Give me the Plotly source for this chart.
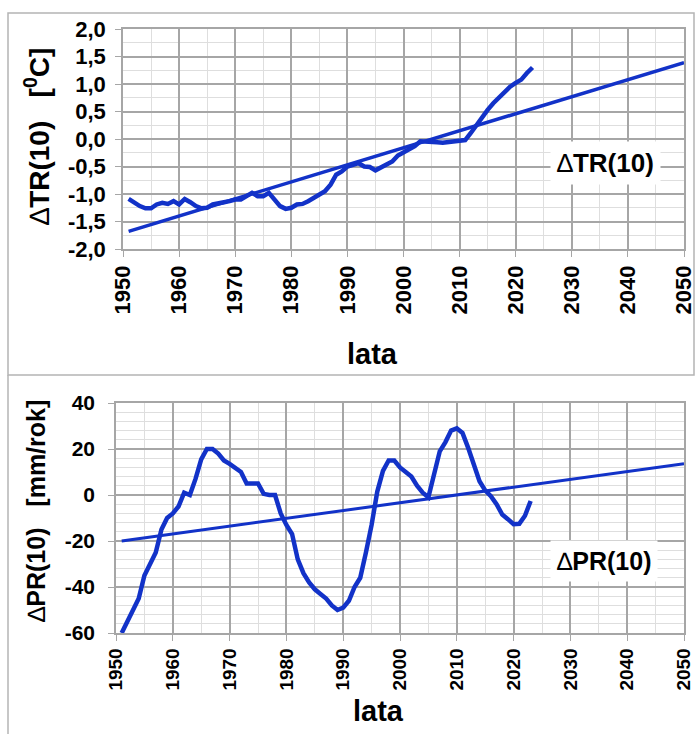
import plotly.graph_objects as go

W, H = 695, 734

# ---- data ----
tr_years = list(range(1951, 2024))
tr_values = [-1.09, -1.16, -1.22, -1.26, -1.26, -1.19, -1.16, -1.18, -1.13, -1.19,
             -1.09, -1.15, -1.22, -1.26, -1.25, -1.19, -1.18, -1.15, -1.13, -1.10,
             -1.10, -1.05, -0.98, -1.04, -1.04, -0.98, -1.10, -1.22, -1.27, -1.25,
             -1.19, -1.18, -1.13, -1.07, -1.01, -0.95, -0.83, -0.65, -0.59, -0.50,
             -0.47, -0.44, -0.50, -0.51, -0.57, -0.51, -0.47, -0.41, -0.30, -0.24,
             -0.19, -0.13, -0.04, -0.04, -0.04, -0.06, -0.07, -0.06, -0.04, -0.03,
             -0.02, 0.11, 0.26, 0.41, 0.53, 0.65, 0.76, 0.87, 0.95, 1.02,
             1.08, 1.20, 1.30]
tr_trend_x = [1951, 2050]
tr_trend_y = [-1.68, 1.39]

pr_years = list(range(1951, 2024))
pr_values = [-60, -55, -50, -45, -35, -30, -25, -15, -10, -8,
             -5, 1, 0, 7, 15.5, 20, 20, 18, 15, 13.5,
             12, 10, 5, 5, 5, 0.5, 0, 0, -8, -13,
             -17, -28, -34, -38, -41, -43, -45, -48, -50, -49,
             -46, -40, -36, -25, -13, 1.5, 10.5, 15, 15, 12,
             10, 8, 4, 1, -1, 10, 19, 23, 28, 29,
             27, 20.5, 13, 6, 2, -0.5, -4, -8.5, -10.5, -12.7,
             -12.5, -9, -2.6]
pr_trend_x = [1951, 2050]
pr_trend_y = [-20, 13.6]

tr_ticks = [2.0, 1.5, 1.0, 0.5, 0.0, -0.5, -1.0, -1.5, -2.0]
tr_ticktext = ["2,0", "1,5", "1,0", "0,5", "0,0", "-0,5", "-1,0", "-1,5", "-2,0"]
pr_ticks = [40, 20, 0, -20, -40, -60]
pr_ticktext = ["40", "20", "0", "-20", "-40", "-60"]
x_ticks = list(range(1950, 2051, 10))
x_ticktext = [str(v) for v in x_ticks]

BLUE = "#1232c8"
MAJ = "#a6a6a6"
MIN = "#dedede"
FONT = "Liberation Sans, Arial"

def px(x):
    return x / W

def py(y):
    return 1 - y / H

def bold(lst):
    return ["<b>%s</b>" % t for t in lst]

fig = go.Figure()
fig.add_trace(go.Scatter(x=tr_years, y=tr_values, mode="lines",
                         line=dict(color=BLUE, width=4.5), xaxis="x", yaxis="y"))
fig.add_trace(go.Scatter(x=tr_trend_x, y=tr_trend_y, mode="lines",
                         line=dict(color=BLUE, width=3.5), xaxis="x", yaxis="y"))
fig.add_trace(go.Scatter(x=pr_years, y=pr_values, mode="lines",
                         line=dict(color=BLUE, width=4.5), xaxis="x2", yaxis="y2"))
fig.add_trace(go.Scatter(x=pr_trend_x, y=pr_trend_y, mode="lines",
                         line=dict(color=BLUE, width=3), xaxis="x2", yaxis="y2"))

def xax(domain, anchor, size):
    return dict(domain=domain, anchor=anchor, range=[1950, 2050],
                tickvals=x_ticks, ticktext=bold(x_ticktext),
                tickangle=-90, tickfont=dict(family=FONT, size=size, color="black"),
                ticklabeloverflow="allow",
                showgrid=True, gridcolor=MAJ, gridwidth=1.5,
                minor=dict(dtick=5, tick0=1950, showgrid=True, gridcolor=MIN, gridwidth=1),
                ticks="outside", ticklen=6, tickcolor=MAJ,
                showline=True, linecolor=MAJ, linewidth=1.5, mirror=True,
                zeroline=False, fixedrange=True, automargin=False)

fig.update_layout(
    width=W, height=H,
    margin=dict(l=0, r=0, t=0, b=0),
    paper_bgcolor="white", plot_bgcolor="white",
    showlegend=False,
    font=dict(family=FONT, color="black"),
    xaxis=xax([px(123), px(684)], "y", 22),
    yaxis=dict(domain=[py(249), py(29)], anchor="x", range=[-2, 2],
               tickvals=tr_ticks, ticktext=bold(tr_ticktext),
               tickfont=dict(family=FONT, size=22, color="black"),
               ticklabelstandoff=5,
               showgrid=True, gridcolor=MAJ, gridwidth=1.5,
               minor=dict(dtick=0.25, tick0=0, showgrid=True, gridcolor=MIN, gridwidth=1),
               ticks="outside", ticklen=6, tickcolor=MAJ,
               showline=True, linecolor=MAJ, linewidth=1.5, mirror=True,
               zeroline=False, fixedrange=True, automargin=False),
    xaxis2=xax([px(116), px(684)], "y2", 19),
    yaxis2=dict(domain=[py(633), py(403)], anchor="x2", range=[-60, 40],
                tickvals=pr_ticks, ticktext=bold(pr_ticktext),
                tickfont=dict(family=FONT, size=21, color="black"),
                ticklabelstandoff=9,
                showgrid=True, gridcolor=MAJ, gridwidth=1.5,
                minor=dict(dtick=4, tick0=0, showgrid=True, gridcolor=MIN, gridwidth=1),
                ticks="outside", ticklen=6, tickcolor=MAJ,
                showline=True, linecolor=MAJ, linewidth=1.5, mirror=True,
                zeroline=False, fixedrange=True, automargin=False),
)

# panel frames
fig.add_shape(type="rect", xref="paper", yref="paper",
              x0=px(8), x1=px(694), y0=py(375), y1=py(13),
              line=dict(color="#b4b4b4", width=1.5), layer="below")
fig.add_shape(type="line", xref="paper", yref="paper",
              x0=px(8), x1=px(8), y0=0, y1=py(375),
              line=dict(color="#b4b4b4", width=1.5), layer="below")

for xx, yy in ((372, 354), (378, 711)):
    fig.add_annotation(text="<b>lata</b>", x=px(xx), y=py(yy), xref="paper", yref="paper",
                       showarrow=False, font=dict(family=FONT, size=29, color="black"),
                       xanchor="center", yanchor="middle")

fig.add_annotation(text="∆<b>TR(10)   [<sup>0</sup>C]</b>", x=px(37), y=py(137),
                   xref="paper", yref="paper", showarrow=False, textangle=-90,
                   font=dict(family=FONT, size=28, color="black"),
                   xanchor="center", yanchor="middle")
fig.add_annotation(text="∆<b>PR(10)   [mm/rok]</b>", x=px(36), y=py(511),
                   xref="paper", yref="paper", showarrow=False, textangle=-90,
                   font=dict(family=FONT, size=25, color="black"),
                   xanchor="center", yanchor="middle")

fig.add_annotation(text="∆<b>TR(10)</b>", x=2036, y=-0.43, xref="x", yref="y",
                   showarrow=False, bgcolor="white", borderpad=6,
                   font=dict(family=FONT, size=26, color="black"))
fig.add_annotation(text="∆<b>PR(10)</b>", x=2036, y=-28.7, xref="x2", yref="y2",
                   showarrow=False, bgcolor="white", borderpad=6,
                   font=dict(family=FONT, size=25, color="black"))

fig.write_html("out.html", config={"displayModeBar": False},
               post_script="document.body.style.margin='0';document.body.style.overflow='hidden';")
